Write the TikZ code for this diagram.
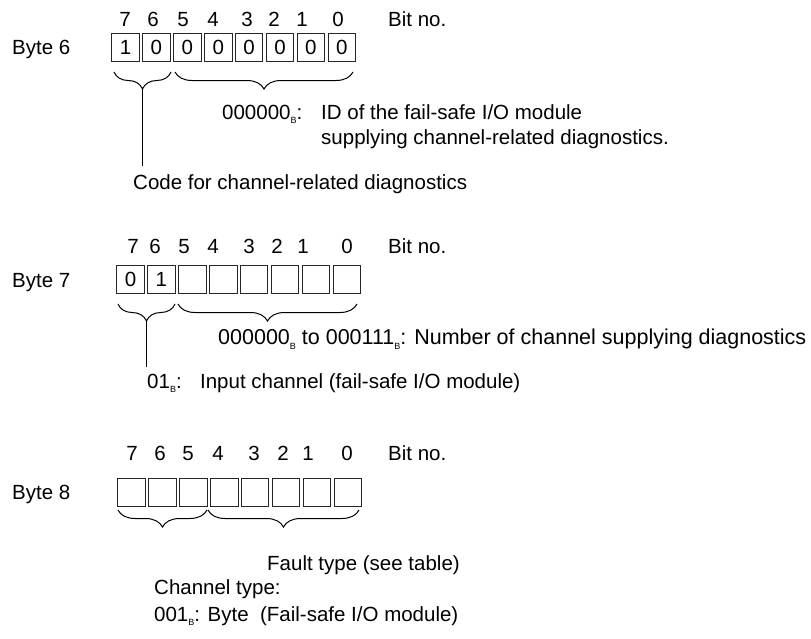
\documentclass[tikz,border=0pt]{standalone}
\usepackage{fontspec}
\setmainfont{Liberation Sans}
\usetikzlibrary{decorations.pathreplacing}
\newcommand{\bsub}{\raisebox{-0.45ex}{\fontsize{9}{9}\selectfont B}}
\tikzset{
  lbl/.style={inner sep=0pt, anchor=base west, font=\fontsize{20.5}{24}\selectfont},
  bitno/.style={inner sep=0pt, anchor=base, font=\fontsize{20.5}{24}\selectfont},
  bitbox/.style={draw=black!85, line width=1pt, minimum width=27.6pt, minimum height=28pt,
                 inner sep=0pt, font=\fontsize{20.5}{24}\selectfont},
  brc/.style={decorate, decoration={brace, mirror, amplitude=17pt, aspect=0.5}, line width=1pt},
  lead/.style={line width=1pt},
}
\begin{document}
\begin{tikzpicture}[x=1pt, y=-1pt]
\useasboundingbox (0,0) rectangle (811,638);

% ---------------- Byte 6 ----------------
\node[lbl] (byte6) at (12,54) {Byte 6};
\foreach \v [count=\i from 0] in {1,0,0,0,0,0,0,0}
  \node[bitbox] (b6-\i) at ({125.5+\i*30.9},47.5) {\v};
\foreach \n/\x in {7/125,6/153,5/183,4/213,3/247,2/274,1/302,0/338}
  \node[bitno] (n6-\n) at (\x,26) {\n};
\node[lbl] (bit6) at (388,26) {Bit no.};
\draw[brc] (114,72) -- (171,72);
\draw[brc] (175,72) -- (353,72);
\coordinate (t6a) at (142.5,89);
\coordinate (e6) at (142.5,166);
\draw[lead] (t6a) -- (e6);
\node[lbl] (id6) at (222,119) {000000\bsub:};
\node[lbl] (id6a) at (321,119) {ID of the fail-safe I/O module};
\node[lbl] (id6b) at (321,144) {supplying channel-related diagnostics.};
\node[lbl] (code6) at (133,189) {Code for channel-related diagnostics};

% ---------------- Byte 7 ----------------
\node[lbl] (byte7) at (12,287) {Byte 7};
\foreach \v [count=\i from 0] in {0,1,{},{},{},{},{},{}}
  \node[bitbox] (b7-\i) at ({130.5+\i*30.9},279) {\v};
\foreach \n/\x in {7/133,6/155,5/184,4/213,3/249,2/277,1/303,0/347}
  \node[bitno] (n7-\n) at (\x,253) {\n};
\node[lbl] (bit7) at (388,253) {Bit no.};
\draw[brc] (118,304) -- (175,304);
\draw[brc] (178,304) -- (357,304);
\coordinate (t7a) at (146.5,320);
\coordinate (e7) at (146.5,367);
\draw[lead] (t7a) -- (e7);
\node[lbl, font=\fontsize{21.5}{24}\selectfont] (num7) at (218,344)
  {000000\bsub{} to 000111\bsub: Number of channel supplying diagnostics};
\node[lbl] (in7) at (147,388) {01\bsub:\hspace{0.9em}Input channel (fail-safe I/O module)};

% ---------------- Byte 8 ----------------
\node[lbl] (byte8) at (12,499) {Byte 8};
\foreach \i in {0,...,7}
  \node[bitbox] (b8-\i) at ({131.5+\i*30.9},492) {};
\foreach \n/\x in {7/132,6/160,5/188,4/218,3/254,2/283,1/308,0/347}
  \node[bitno] (n8-\n) at (\x,460) {\n};
\node[lbl] (bit8) at (388,460) {Bit no.};
\draw[brc] (118,510) -- (207,510);
\draw[brc] (208,510) -- (359,510);
\node[lbl] (fault8) at (267,570) {Fault type (see table)};
\node[lbl] (chan8) at (154,594) {Channel type:};
\node[lbl] (byte8t) at (154,621) {001\bsub: Byte\ \ (Fail-safe I/O module)};
\end{tikzpicture}
\end{document}
